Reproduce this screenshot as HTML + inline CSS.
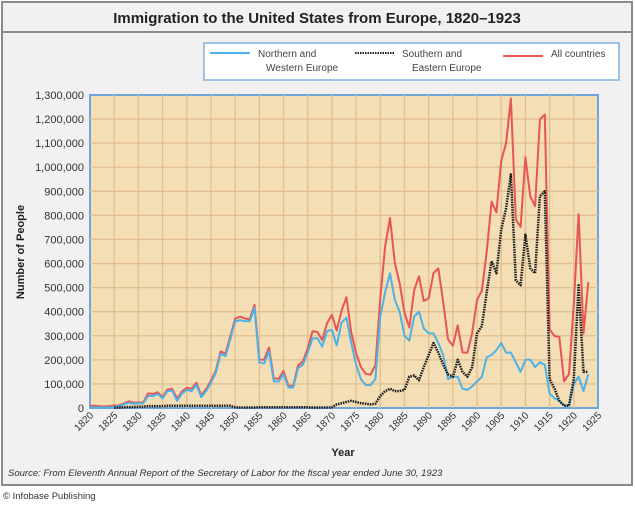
<!DOCTYPE html>
<html><head><meta charset="utf-8"><style>
body{margin:0;width:635px;height:504px;background:#fff;font-family:"Liberation Sans",sans-serif;overflow:hidden}
svg text{font-family:"Liberation Sans",sans-serif}
</style></head><body>
<svg width="635" height="504">
<rect x="2" y="2" width="630" height="483" fill="#f1f1f1" stroke="#8a8a8a" stroke-width="2"/>
<line x1="2" y1="32" x2="632" y2="32" stroke="#8a8a8a" stroke-width="2"/>
<text x="317" y="23" text-anchor="middle" font-size="15" font-weight="bold" fill="#222">Immigration to the United States from Europe, 1820–1923</text>
<g>
<rect x="204" y="43" width="415" height="37" fill="#fff" stroke="#7fb2e0" stroke-width="1.5"/>
<g><line x1="210" y1="53" x2="250" y2="53" stroke="#4db3e6" stroke-width="2"/><text x="258" y="57" font-size="10" fill="#444">Northern and</text><text x="266" y="71" font-size="10" fill="#444">Western Europe</text></g>
<g><line x1="355" y1="53" x2="394" y2="53" stroke="#222" stroke-width="2" stroke-dasharray="1.5,1"/><text x="402" y="57" font-size="10" fill="#444">Southern and</text><text x="412" y="71" font-size="10" fill="#444">Eastern Europe</text></g>
<g><line x1="503" y1="56" x2="543" y2="56" stroke="#e85555" stroke-width="2"/><text x="551" y="57" font-size="10" fill="#444">All countries</text></g>
</g>
<rect x="90" y="95" width="508" height="313" fill="#f3deb5" stroke="#6fa5d8" stroke-width="2"/>
<g id="grid"></g><g id="series"></g><g id="axes"></g>
<text x="24" y="252" transform="rotate(-90 24 252)" text-anchor="middle" font-size="11" font-weight="bold" fill="#222">Number of People</text>
<text x="343" y="456" text-anchor="middle" font-size="11" font-weight="bold" fill="#222">Year</text>
<text x="8" y="476" font-size="9.5" font-style="italic" fill="#333">Source: From Eleventh Annual Report of the Secretary of Labor for the fiscal year ended June 30, 1923</text>
<text x="3" y="499" font-size="9.5" fill="#333">© Infobase Publishing</text>
</svg>
<script>
const startYear=1820;
const allCountries=[8385,9127,6911,6354,7912,10199,10837,18875,27382,22520,23322,22633,60482,58640,65365,45374,76242,79340,38914,68069,84066,80289,104565,52496,78615,114371,154416,234968,226527,297024,369980,379466,371603,368645,427833,200877,200436,251306,123126,121282,153640,91918,91985,176282,193418,248120,318568,315722,282189,352768,387203,321350,404806,459803,313339,227498,169986,141857,138469,177826,457257,669431,788992,603322,518592,395346,334203,490109,546889,444427,455302,560319,579663,439730,285631,258536,343267,230832,229299,311715,448572,487918,648743,857046,812870,1026499,1100735,1285349,782870,751786,1041570,878587,838172,1197892,1218480,326700,298826,295403,110618,141132,430001,805228,309556,522919];
const northernWestern=[2000,2000,2000,2000,2000,5000,8000,15000,22000,18000,20000,19000,50000,50000,58000,40000,70000,72000,30000,60000,75000,70000,95000,45000,70000,105000,145000,225000,215000,285000,360000,365000,360000,360000,415000,190000,185000,235000,110000,110000,140000,85000,85000,165000,180000,230000,290000,290000,255000,320000,325000,260000,355000,375000,270000,180000,120000,95000,95000,120000,380000,480000,560000,450000,400000,300000,280000,380000,400000,330000,310000,310000,270000,220000,120000,130000,130000,80000,75000,90000,110000,130000,210000,220000,240000,270000,230000,230000,190000,150000,200000,200000,170000,190000,180000,60000,40000,30000,10000,10000,100000,130000,70000,140000];
const southernEastern=[null,null,null,null,null,1000,2000,3000,4000,4000,5000,6000,8000,8000,8000,8000,9000,9000,9000,9000,9000,9000,9000,9000,9000,9000,9000,9000,9000,9000,3000,2000,2000,2000,2000,3000,3000,3000,3000,3000,3000,3000,3000,3000,3000,3000,2000,2000,2000,2000,3000,15000,20000,25000,30000,25000,20000,18000,15000,18000,50000,70000,80000,70000,70000,75000,130000,135000,115000,170000,220000,270000,230000,180000,140000,130000,200000,150000,130000,170000,310000,340000,480000,610000,560000,740000,830000,970000,530000,510000,720000,580000,560000,880000,900000,120000,80000,30000,10000,10000,120000,510000,150000,150000];
const yTicks=[0,100000,200000,300000,400000,500000,600000,700000,800000,900000,1000000,1100000,1200000,1300000];
const xTicks=[1820,1825,1830,1835,1840,1845,1850,1855,1860,1865,1870,1875,1880,1885,1890,1895,1900,1905,1910,1915,1920,1925];
const X=y=>90+(y-1820)*508/105, Y=v=>408-v*313/1300000;
const NS="http://www.w3.org/2000/svg";
function mk(t,a,p){const e=document.createElementNS(NS,t);for(const k in a)e.setAttribute(k,a[k]);p.appendChild(e);return e;}
const grid=document.getElementById('grid'),axes=document.getElementById('axes'),ser=document.getElementById('series');
yTicks.forEach(v=>{
 if(v>0&&v<1300000){const l=mk('line',{x1:90,x2:598,y1:Y(v),y2:Y(v),stroke:'#e2bf90','stroke-width':1.3},grid);
 
 }
 const t=mk('text',{x:84,y:Y(v)+4,'text-anchor':'end','font-size':11,fill:'#333'},axes);t.textContent=v.toLocaleString('en-US');
 
 
});
xTicks.forEach(y=>{
 if(y>1820&&y<1925){const l=mk('line',{x1:X(y),x2:X(y),y1:95,y2:408,stroke:'#e2bf90','stroke-width':1.3},grid);
 
 }
 const t=mk('text',{x:X(y)+4,y:416,'text-anchor':'end','font-size':10,fill:'#333',transform:`rotate(-45 ${X(y)+4} 416)`},axes);t.textContent=y;
 
 
});
function line(arr,color,w,dash,name){
 let d='';arr.forEach((v,i)=>{if(v==null)return;d+=(d?'L':'M')+X(startYear+i).toFixed(1)+','+Y(v).toFixed(1);});
 const p=mk('path',{d:d,fill:'none',stroke:color,'stroke-width':w,'stroke-linejoin':'round'},ser);
 if(dash)p.setAttribute('stroke-dasharray',dash);
 
 
}
line(allCountries,'#e85555',2,null,'series-all-countries');
line(northernWestern,'#4db3e6',2,null,'series-northern-western');
line(southernEastern,'#1a1a1a',2.5,'1.5,1','series-southern-eastern');
</script>
</body></html>
